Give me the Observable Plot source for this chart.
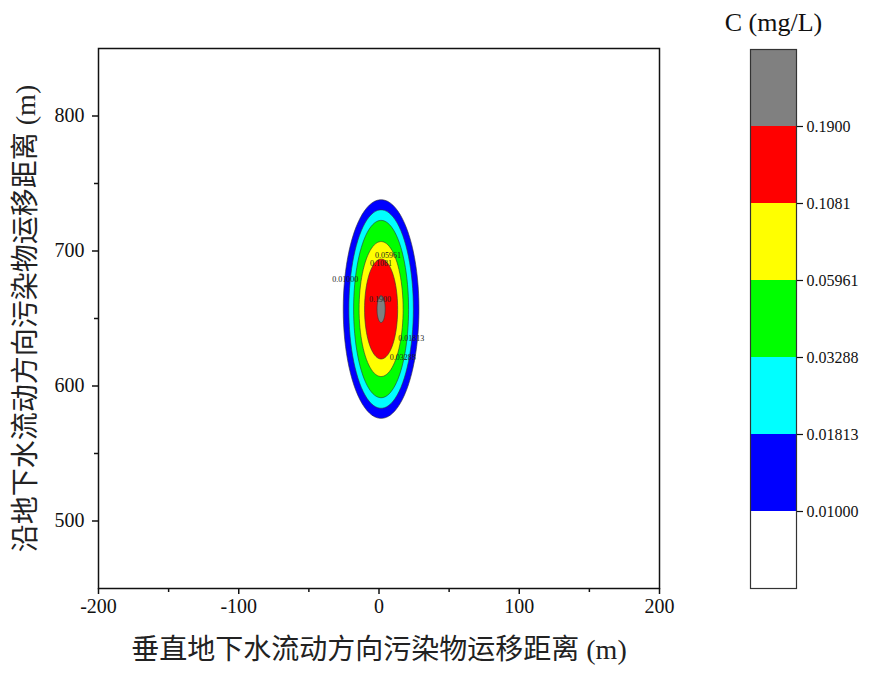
<!DOCTYPE html>
<html>
<head>
<meta charset="utf-8">
<script src="https://cdn.jsdelivr.net/npm/d3@7"></script>
<script src="https://cdn.jsdelivr.net/npm/@observablehq/plot@0.6"></script>
<style>
  body { margin: 0; background: #fff; }
  #wrap { position: relative; width: 872px; height: 675px; }
  #main { position: absolute; left: 0; top: 0; }
  #bar { position: absolute; left: 700px; top: 0; }
</style>
</head>
<body>
<div id="wrap"><div id="main"></div><div id="bar"></div></div>
<script>
// ---- data ----
const levels = [0.01, 0.01813, 0.03288, 0.05961, 0.1081, 0.19];
const levelLabels = ["0.01000", "0.01813", "0.03288", "0.05961", "0.1081", "0.1900"];
const bandColors = ["#ffffff", "#0000ff", "#00ffff", "#00ff00", "#ffff00", "#ff0000", "#808080"];
// contour ellipses (outer boundary of each level): centre and semi-axes in metres
const plumeCenterX = 1.5;
const plumeCenterY = 657;
const semiAxisX = [27, 23, 19.6, 15.7, 11.8, 2.9];
const semiAxisY = [81, 73.5, 65.7, 50, 37, 10];
// contour labels
const labelText = ["0.01000", "0.05961", "0.1081", "0.1900", "0.01813", "0.03288"];
const labelX = [-24, 6.5, 1.5, 0.7, 23, 17];
const labelY = [679, 696.5, 691, 664, 635.6, 621];
const xMajor = [-200, -100, 0, 100, 200];
const xMinor = [-150, -50, 50, 150];
const yMajor = [500, 600, 700, 800];
const yMinor = [550, 650, 750];
const xTitle = "垂直地下水流动方向污染物运移距离 (m)";
const yTitle = "沿地下水流动方向污染物运移距离 (m)";
const barTitle = "C (mg/L)";

// ---- build ellipse outlines from measured semi-axes ----
const outlines = [];
levels.forEach((lv, i) => {
  const n = 90;
  for (let k = 0; k < n; k++) {
    const t = (2 * Math.PI * k) / n;
    outlines.push({
      level: i,
      x: plumeCenterX + semiAxisX[i] * Math.cos(t),
      y: plumeCenterY + semiAxisY[i] * Math.sin(t)
    });
  }
});

const font = "'Liberation Serif', 'Noto Sans CJK SC', serif";

const main = Plot.plot({
  width: 700,
  height: 675,
  marginLeft: 98,
  marginRight: 41,
  marginTop: 48,
  marginBottom: 87,
  style: { fontFamily: font, fontSize: "20px", color: "#111", background: "white" },
  x: { domain: [-200, 200] },
  y: { domain: [450, 850] },
  marks: [
    ...levels.map((lv, i) =>
      Plot.line(outlines.filter(d => d.level === i), {
        x: "x", y: "y", curve: "linear-closed",
        fill: bandColors[i + 1], stroke: "#333", strokeWidth: 0.6
      })
    ),
    Plot.text(labelText.map((t, i) => ({ t, x: labelX[i], y: labelY[i] })), {
      x: "x", y: "y", text: "t", fontSize: 8, fill: "#222", fontFamily: font
    }),
    Plot.frame({ stroke: "#111", strokeWidth: 1.5 }),
    Plot.axisX({ ticks: xMajor, tickSize: 6, tickPadding: 4, strokeWidth: 1.5, label: null, tickFormat: d => String(d) }),
    Plot.axisX({ ticks: xMinor, tickSize: 4, strokeWidth: 1.5, label: null, tickFormat: () => "" }),
    Plot.axisY({ ticks: yMajor, tickSize: 6, tickPadding: 8, strokeWidth: 1.5, label: null, tickFormat: d => String(d) }),
    Plot.axisY({ ticks: yMinor, tickSize: 4, strokeWidth: 1.5, label: null, tickFormat: () => "" }),
    Plot.text([xTitle], { frameAnchor: "bottom", dy: 70, fontSize: 28, fill: "#222", textAnchor: "middle" }),
    Plot.text([yTitle], { frameAnchor: "left", dx: -72, rotate: -90, fontSize: 28, fill: "#222", textAnchor: "middle" })
  ]
});
document.getElementById("main").append(main);

// ---- colour bar ----
const bands = bandColors.map((c, i) => ({ i, c }));
const bar = Plot.plot({
  width: 172,
  height: 675,
  marginLeft: 50,
  marginRight: 76,
  marginTop: 49,
  marginBottom: 87,
  style: { fontFamily: font, fontSize: "16px", color: "#111", background: "white" },
  x: { domain: [0, 1], axis: null },
  y: { domain: [0, 7], axis: null },
  marks: [
    Plot.rect(bands, { x1: 0, x2: 1, y1: d => d.i, y2: d => d.i + 1, fill: d => d.c }),
    Plot.frame({ stroke: "#333", strokeWidth: 1.2 }),
    Plot.axisY({
      anchor: "right", ticks: levelLabels.map((t, i) => i + 1),
      tickFormat: v => levelLabels[v - 1], tickSize: 6, tickPadding: 4,
      strokeWidth: 1.2, label: null
    }),
    Plot.text([barTitle], { x: 0.5, y: 7, dy: -27, fontSize: 26, fill: "#111" })
  ]
});
document.getElementById("bar").append(bar);
</script>
</body>
</html>
